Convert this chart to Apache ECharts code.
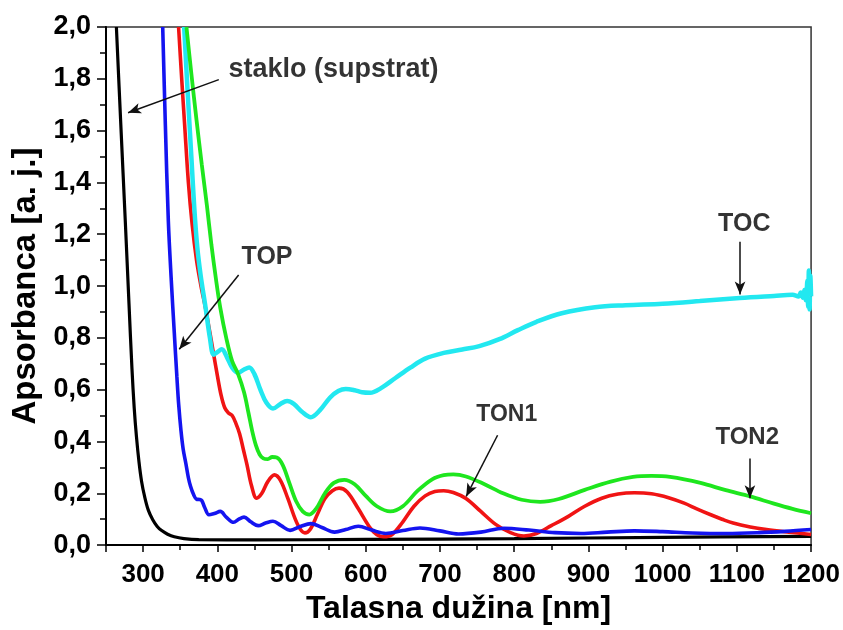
<!DOCTYPE html>
<html>
<head>
<meta charset="utf-8">
<title>Apsorbanca</title>
<script src="https://cdn.jsdelivr.net/npm/echarts@6/dist/echarts.min.js"></script>
<style>
  html, body { margin: 0; padding: 0; background: #fff; }
  #chart { width: 843px; height: 630px; }
</style>
</head>
<body>
<div id="chart"></div>
<script>
// [talasna duzina nm, apsorbanca]
const staklo = [[264, 2.0], [270, 1.62], [276, 1.25], [281, 0.93], [285, 0.68], [288, 0.53], [291, 0.42],
  [294.5, 0.32], [298, 0.245], [302, 0.188], [307, 0.135], [313, 0.098], [319, 0.072], [325, 0.056],
  [333, 0.042], [342, 0.032], [355, 0.025], [375, 0.021], [450, 0.02], [600, 0.022], [800, 0.025],
  [1000, 0.03], [1200, 0.034]];

const top_ = [[326.4, 2.0], [330, 1.62], [334, 1.25], [338, 1.02], [342, 0.82], [345.5, 0.65], [348, 0.54],
  [351, 0.443], [354, 0.37], [357.6, 0.315], [361, 0.26], [364, 0.226], [368, 0.195], [372, 0.177],
  [376, 0.176], [379, 0.172], [383, 0.145], [388.7, 0.117], [396, 0.122], [404, 0.13], [412, 0.108],
  [422, 0.088], [429, 0.1], [436, 0.108], [445, 0.09], [455, 0.075], [465, 0.085], [475, 0.092],
  [486, 0.075], [498, 0.057], [512, 0.072], [526, 0.083], [541, 0.068], [558, 0.05], [573, 0.06],
  [590, 0.073], [608, 0.058], [627, 0.045], [650, 0.056], [673, 0.066], [700, 0.055], [725, 0.043],
  [755, 0.05], [786, 0.065], [820, 0.058], [855, 0.048], [890, 0.045], [925, 0.05], [962, 0.055],
  [1000, 0.052], [1040, 0.047], [1086, 0.045], [1130, 0.048], [1165, 0.053], [1200, 0.06]];

const ton1 = [[347.8, 2.0], [352, 1.8], [356, 1.62], [361, 1.4], [366, 1.24], [372, 1.1], [378, 1.0],
  [384, 0.916], [390, 0.82], [395, 0.737], [400, 0.655], [405, 0.58], [410, 0.53], [415, 0.51],
  [420, 0.5], [425, 0.47], [430, 0.43], [435, 0.37], [440, 0.31], [446, 0.23], [453, 0.181],
  [460, 0.2], [468, 0.245], [477, 0.271], [485, 0.25], [495, 0.18], [505, 0.1], [512, 0.06],
  [518, 0.047], [525, 0.06], [535, 0.12], [545, 0.18], [555, 0.21], [564, 0.22], [575, 0.205],
  [590, 0.14], [605, 0.07], [615, 0.04], [624, 0.032], [635, 0.04], [650, 0.09], [665, 0.15],
  [680, 0.19], [693, 0.207], [705, 0.21], [718, 0.203], [735, 0.18], [755, 0.13], [775, 0.08],
  [795, 0.048], [813, 0.035], [830, 0.045], [850, 0.075], [873, 0.111], [895, 0.15], [918, 0.181],
  [940, 0.197], [962, 0.202], [985, 0.198], [1008, 0.183], [1029, 0.162], [1046, 0.14], [1064, 0.118],
  [1080, 0.1], [1095, 0.085], [1118, 0.07], [1140, 0.06], [1170, 0.05], [1200, 0.041]];

const toc = [[355.3, 2.0], [360, 1.75], [365, 1.5], [369, 1.3], [373, 1.15], [377.6, 1.04], [384, 0.92],
  [390, 0.8], [395, 0.735], [400, 0.745], [406, 0.756], [413, 0.725], [420, 0.685], [428, 0.665],
  [436, 0.678], [443, 0.686], [450, 0.66], [458, 0.6], [466, 0.55], [475, 0.527], [485, 0.545],
  [494, 0.556], [503, 0.545], [514, 0.515], [526, 0.494], [538, 0.52], [552, 0.57], [563, 0.595],
  [573, 0.603], [585, 0.598], [595, 0.59], [606, 0.588], [620, 0.605], [640, 0.645], [660, 0.685],
  [680, 0.72], [705, 0.742], [730, 0.755], [753, 0.768], [780, 0.795], [805, 0.83], [830, 0.862],
  [864, 0.895], [909, 0.918], [950, 0.926], [1000, 0.932], [1050, 0.942], [1104, 0.954], [1150, 0.962],
  [1175, 0.966], [1183, 0.96], [1186, 0.975], [1189, 0.955], [1191, 0.985], [1193, 0.945], [1195, 1.02],
  [1196, 0.92], [1197, 1.06], [1198, 0.91], [1199, 1.04], [1200, 0.96]];

const ton2 = [[358.4, 2.0], [365, 1.82], [372, 1.64], [379, 1.47], [386, 1.31], [392, 1.16], [398, 1.03],
  [404, 0.916], [412, 0.8], [420, 0.71], [428, 0.66], [436, 0.59], [442, 0.51], [447, 0.44],
  [452, 0.385], [457, 0.35], [462, 0.335], [468, 0.332], [474, 0.34], [480, 0.338], [488, 0.31],
  [497, 0.24], [506, 0.17], [515, 0.13], [524, 0.118], [533, 0.14], [545, 0.2], [557, 0.24],
  [571, 0.252], [585, 0.235], [600, 0.19], [615, 0.15], [633, 0.13], [650, 0.15], [670, 0.21],
  [690, 0.255], [705, 0.27], [718, 0.273], [735, 0.265], [760, 0.235], [785, 0.2], [810, 0.175],
  [835, 0.167], [860, 0.178], [895, 0.213], [930, 0.245], [960, 0.263], [985, 0.267], [1010, 0.263],
  [1051, 0.24], [1085, 0.212], [1118, 0.188], [1150, 0.16], [1175, 0.14], [1200, 0.123]];

// oznake i strelice (u koordinatama podataka)
const labelTexts = ['staklo (supstrat)', 'TOP', 'TOC', 'TON1', 'TON2'];
const labelAt = [[415, 1.835], [432.7, 1.11], [1110, 1.24], [790, 0.504], [1114, 0.415]];
const arrowFrom = [[402, 1.797], [428.7, 1.043], [1104.3, 1.171], [777.6, 0.424], [1117.6, 0.334]];
const arrowTo = [[279.7, 1.669], [348.7, 0.756], [1104.3, 0.967], [735.3, 0.188], [1117.6, 0.181]];

const FONT = "'Liberation Sans', Arial, Helvetica, sans-serif";
const INK = '#000';
const labelSizes = [27, 25, 25, 23, 24];

function curve(name, data, color, width) {
  return {
    name: name,
    type: 'line',
    data: data,
    showSymbol: false,
    smooth: 0.35,
    clip: true,
    lineStyle: { color: color, width: width },
    z: 2
  };
}

const chart = echarts.init(document.getElementById('chart'));
chart.setOption({
  animation: false,
  backgroundColor: '#fff',
  textStyle: { fontFamily: FONT },
  grid: {
    left: 106, right: 26, top: 27, bottom: 81,
    show: true, borderColor: '#333', borderWidth: 1.5, backgroundColor: 'transparent'
  },
  xAxis: {
    type: 'value',
    min: 250,
    max: 1200,
    splitNumber: 10,
    name: 'Talasna dužina [nm]',
    nameLocation: 'middle',
    nameGap: 47,
    nameTextStyle: { fontFamily: FONT, fontWeight: 'bold', fontSize: 32, color: INK },
    axisLine: { lineStyle: { color: '#000', width: 2 } },
    axisTick: { length: 7, lineStyle: { color: '#000', width: 1.5 } },
    minorTick: { show: true, splitNumber: 2, length: 5, lineStyle: { color: '#000', width: 1.5 } },
    splitLine: { show: false },
    axisLabel: {
      margin: 17, fontFamily: FONT, fontWeight: 'bold', fontSize: 26, color: INK,
      showMinLabel: false,
      formatter: v => (v < 300 ? '' : String(v))
    }
  },
  yAxis: {
    type: 'value',
    min: 0,
    max: 2,
    interval: 0.2,
    name: 'Apsorbanca [a. j.]',
    nameLocation: 'middle',
    nameGap: 63,
    nameTextStyle: { fontFamily: FONT, fontWeight: 'bold', fontSize: 33, color: INK },
    axisLine: { lineStyle: { color: '#000', width: 2 } },
    axisTick: { length: 9, lineStyle: { color: '#000', width: 1.5 } },
    minorTick: { show: true, splitNumber: 2, length: 6, lineStyle: { color: '#000', width: 1.5 } },
    splitLine: { show: false },
    axisLabel: {
      margin: 15, fontFamily: FONT, fontWeight: 'bold', fontSize: 27, color: INK,
      formatter: v => v.toFixed(1).replace('.', ',')
    }
  },
  series: [
    curve('staklo', staklo, '#000000', 3.2),
    curve('TON1', ton1, '#f01414', 3.6),
    curve('TOC', toc, '#22e8f0', 4.5),
    curve('TON2', ton2, '#1ee61e', 3.8),
    curve('TOP', top_, '#1414f0', 3.6),
    {
      // strelice
      name: 'strelice',
      type: 'line',
      data: [],
      markLine: {
        silent: true,
        symbol: ['none', 'arrow'],
        symbolSize: [8, 13],
        label: { show: false },
        lineStyle: { color: '#111', width: 1.5, type: 'solid' },
        data: arrowFrom.map((p, i) => [{ coord: p }, { coord: arrowTo[i] }])
      },
      z: 5
    },
    {
      // tekst oznaka
      name: 'oznake',
      type: 'scatter',
      symbolSize: 0,
      silent: true,
      data: labelTexts.map((t, i) => ({
        value: labelAt[i],
        name: t,
        label: {
          show: true,
          position: i < 2 ? 'right' : 'inside',
          distance: 0,
          formatter: '{b}',
          fontFamily: FONT,
          fontWeight: 'bold',
          fontSize: labelSizes[i],
          color: INK
        }
      })),
      z: 6
    }
  ]
});
</script>
</body>
</html>
